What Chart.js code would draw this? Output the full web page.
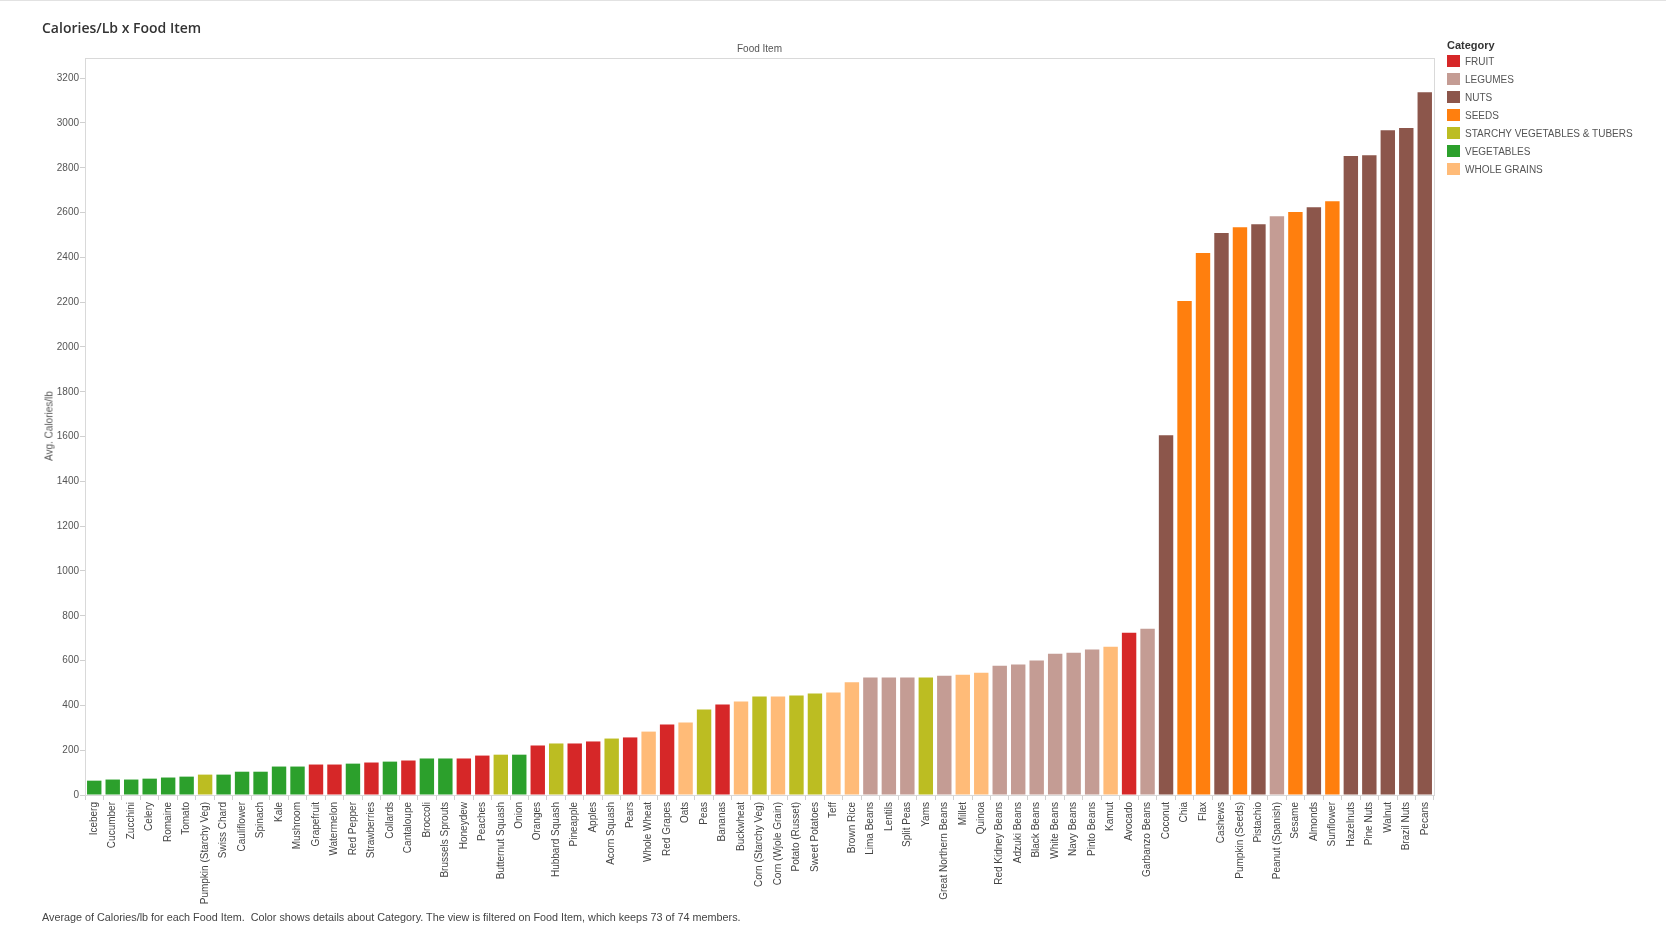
<!DOCTYPE html>
<html>
<head>
<meta charset="utf-8">
<script src="https://cdn.jsdelivr.net/npm/chart.js@4.4.0/dist/chart.umd.min.js"></script>
<style>
  body { margin: 0; background: #fff; font-family: "Liberation Sans", Arial, sans-serif; }
  #wrap { position: absolute; left: 0; top: 0; width: 1666px; height: 942px; border-top: 1px solid #e2e2e2; box-sizing: border-box; }
  #title { position: absolute; left: 42px; top: 17px; font-family: "Open Sans", sans-serif; font-size: 14px; font-weight: 600; color: #333; }
  #xhead { position: absolute; left: 85px; width: 1349px; top: 42px; text-align: center; font-size: 10px; color: #555; }
  #ytitle { position: absolute; left: 49px; top: 425px; font-size: 10px; color: #555; transform: translate(-50%, -50%) rotate(-90deg); white-space: nowrap; }
  #legend { position: absolute; left: 1447px; top: 38px; font-size: 10px; color: #555; }
  #legend .head { font-weight: bold; color: #333; font-size: 11px; margin-bottom: 1px; }
  #legend .item { height: 18px; display: flex; align-items: center; }
  #legend .sw { width: 13px; height: 12px; margin-right: 5px; }
  #foot { position: absolute; left: 42px; top: 910px; font-size: 10.8px; color: #444; }
</style>
</head>
<body>
<div id="wrap">
  <canvas id="chart"></canvas>
  <div id="title">Calories/Lb x Food Item</div>
  <div id="xhead">Food Item</div>
  <div id="ytitle">Avg. Calories/lb</div>
  <div id="legend"><div class="head">Category</div></div>
  <div id="foot">Average of Calories/lb for each Food Item.&nbsp; Color shows details about Category. The view is filtered on Food Item, which keeps 73 of 74 members.</div>
</div>
<script>
// Categorías y colores (paleta Tableau 10)
const categoryNames = ['FRUIT', 'LEGUMES', 'NUTS', 'SEEDS', 'STARCHY VEGETABLES & TUBERS', 'VEGETABLES', 'WHOLE GRAINS'];
const categoryColors = ['#d62728', '#c49c94', '#8c564b', '#ff7f0e', '#bcbd22', '#2ca02c', '#ffbb78'];

const foods = [
  'Iceberg', 'Cucumber', 'Zucchini', 'Celery', 'Romaine', 'Tomato', 'Pumpkin (Starchy Veg)', 'Swiss Chard',
  'Cauliflower', 'Spinach', 'Kale', 'Mushroom', 'Grapefruit', 'Watermelon', 'Red Pepper', 'Strawberries',
  'Collards', 'Cantaloupe', 'Broccoli', 'Brussels Sprouts', 'Honeydew', 'Peaches', 'Butternut Squash', 'Onion',
  'Oranges', 'Hubbard Squash', 'Pineapple', 'Apples', 'Acorn Squash', 'Pears', 'Whole Wheat', 'Red Grapes',
  'Oats', 'Peas', 'Bananas', 'Buckwheat', 'Corn (Starchy Veg)', 'Corn (Wjole Grain)', 'Potato (Russet)', 'Sweet Potatoes',
  'Teff', 'Brown Rice', 'Lima Beans', 'Lentils', 'Split Peas', 'Yams', 'Great Northern Beans', 'Millet',
  'Quinoa', 'Red Kidney Beans', 'Adzuki Beans', 'Black Beans', 'White Beans', 'Navy Beans', 'Pinto Beans', 'Kamut',
  'Avocado', 'Garbanzo Beans', 'Coconut', 'Chia', 'Flax', 'Cashews', 'Pumpkin (Seeds)', 'Pistachio',
  'Peanut (Spanish)', 'Sesame', 'Almonds', 'Sunflower', 'Hazelnuts', 'Pine Nuts', 'Walnut', 'Brazil Nuts', 'Pecans'
];

const calories = [
  64, 69, 69, 73, 78, 82, 91, 91,
  104, 104, 127, 127, 136, 136, 140, 145,
  149, 154, 163, 163, 163, 176, 180, 180,
  221, 230, 230, 239, 252, 257, 283, 315,
  324, 382, 404, 417, 440, 440, 444, 453,
  458, 503, 524, 524, 524, 524, 532, 537,
  546, 577, 582, 600, 631, 635, 649, 662,
  724, 742, 1606, 2205, 2420, 2509, 2535, 2548,
  2584, 2602, 2624, 2651, 2852, 2856, 2968, 2977, 3137
];

const foodCategory = [
  'VEGETABLES', 'VEGETABLES', 'VEGETABLES', 'VEGETABLES', 'VEGETABLES', 'VEGETABLES', 'STARCHY VEGETABLES & TUBERS', 'VEGETABLES',
  'VEGETABLES', 'VEGETABLES', 'VEGETABLES', 'VEGETABLES', 'FRUIT', 'FRUIT', 'VEGETABLES', 'FRUIT',
  'VEGETABLES', 'FRUIT', 'VEGETABLES', 'VEGETABLES', 'FRUIT', 'FRUIT', 'STARCHY VEGETABLES & TUBERS', 'VEGETABLES',
  'FRUIT', 'STARCHY VEGETABLES & TUBERS', 'FRUIT', 'FRUIT', 'STARCHY VEGETABLES & TUBERS', 'FRUIT', 'WHOLE GRAINS', 'FRUIT',
  'WHOLE GRAINS', 'STARCHY VEGETABLES & TUBERS', 'FRUIT', 'WHOLE GRAINS', 'STARCHY VEGETABLES & TUBERS', 'WHOLE GRAINS', 'STARCHY VEGETABLES & TUBERS', 'STARCHY VEGETABLES & TUBERS',
  'WHOLE GRAINS', 'WHOLE GRAINS', 'LEGUMES', 'LEGUMES', 'LEGUMES', 'STARCHY VEGETABLES & TUBERS', 'LEGUMES', 'WHOLE GRAINS',
  'WHOLE GRAINS', 'LEGUMES', 'LEGUMES', 'LEGUMES', 'LEGUMES', 'LEGUMES', 'LEGUMES', 'WHOLE GRAINS',
  'FRUIT', 'LEGUMES', 'NUTS', 'SEEDS', 'SEEDS', 'NUTS', 'SEEDS', 'NUTS',
  'LEGUMES', 'SEEDS', 'NUTS', 'SEEDS', 'NUTS', 'NUTS', 'NUTS', 'NUTS', 'NUTS'
];

// Leyenda en HTML
const legend = document.getElementById('legend');
categoryNames.forEach((name, i) => {
  const item = document.createElement('div');
  item.className = 'item';
  item.innerHTML = '<div class="sw" style="background:' + categoryColors[i] + '"></div>' + name.replace('&', '&amp;');
  legend.appendChild(item);
});

const barColors = foodCategory.map(c => categoryColors[categoryNames.indexOf(c)]);

// Marco gris alrededor del área del gráfico
const frame = {
  id: 'frame',
  afterDraw(chart) {
    const a = chart.chartArea;
    const ctx = chart.ctx;
    ctx.save();
    ctx.strokeStyle = '#d9d9d9';
    ctx.lineWidth = 1;
    ctx.strokeRect(a.left + 0.5, a.top + 0.5, a.right - a.left, a.bottom - a.top);
    ctx.restore();
  }
};

new Chart(document.getElementById('chart'), {
  type: 'bar',
  data: {
    labels: foods,
    datasets: [{
      data: calories,
      backgroundColor: barColors,
      categoryPercentage: 1,
      barPercentage: 0.78
    }]
  },
  options: {
    responsive: true,
    maintainAspectRatio: false,
    animation: false,
    layout: { padding: { top: 57, right: 232, left: 0, bottom: 0 } },
    plugins: { legend: { display: false }, tooltip: { enabled: false } },
    scales: {
      x: {
        afterFit: s => { s.height = 147; },
        grid: { drawOnChartArea: false, tickLength: 5, color: '#d0d0d0', offset: true },
        border: { color: '#d0d0d0' },
        ticks: {
          autoSkip: false, minRotation: 90, maxRotation: 90, padding: 2,
          color: '#444', font: { family: 'Liberation Sans', size: 10 }
        }
      },
      y: {
        min: 0,
        max: 3290,
        afterFit: s => { s.width = 85; },
        afterBuildTicks: s => { s.ticks = s.ticks.filter(t => t.value % 200 === 0); },
        grid: { drawOnChartArea: false, tickLength: 5, color: '#d0d0d0' },
        border: { color: '#d0d0d0' },
        ticks: {
          stepSize: 200, padding: 1,
          color: '#555', font: { family: 'Liberation Sans', size: 10 },
          callback: v => String(v)
        }
      }
    }
  },
  plugins: [frame]
});
</script>
</body>
</html>
